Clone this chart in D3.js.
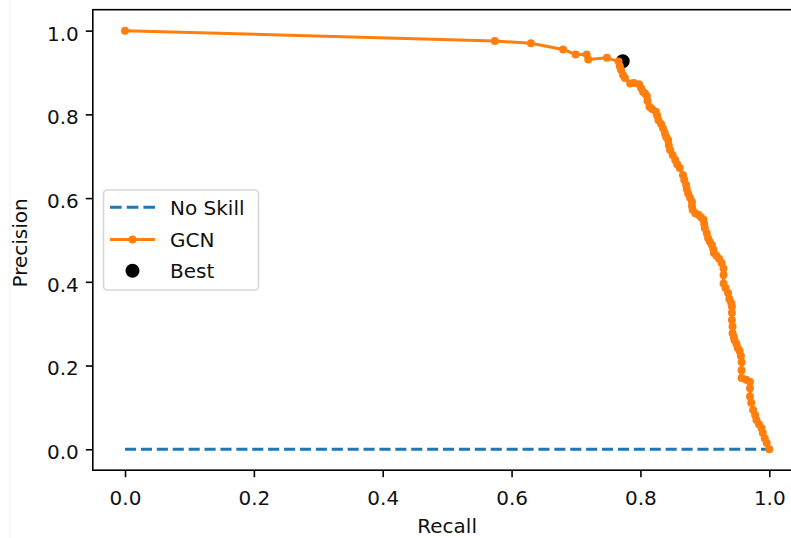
<!DOCTYPE html>
<html>
<head>
<meta charset="utf-8">
<script src="https://cdn.jsdelivr.net/npm/d3@7"></script>
<style>
  html, body { margin: 0; padding: 0; background: #fff; }
  svg { display: block; font-family: "DejaVu Sans", sans-serif; }
</style>
</head>
<body>
<svg id="chart" width="791" height="538"></svg>
<script>
// ---- data ----
const noSkillRecall = [0, 1];
const noSkillPrecision = [0, 0];

const gcnRecall = [
  0.000, 0.574, 0.630, 0.680, 0.6995, 0.7166, 0.719, 0.748, 0.766, 0.768,
  0.770, 0.773, 0.776, 0.784, 0.790, 0.798, 0.801, 0.804, 0.807, 0.810,
  0.811, 0.814, 0.818, 0.824, 0.826, 0.828, 0.832, 0.835, 0.838, 0.840,
  0.843, 0.844, 0.846, 0.850, 0.854, 0.857, 0.861, 0.866, 0.868, 0.871,
  0.872, 0.874, 0.877, 0.880, 0.880, 0.881, 0.885, 0.890, 0.894, 0.898,
  0.899, 0.900, 0.903, 0.905, 0.908, 0.911, 0.913, 0.914, 0.918, 0.922,
  0.926, 0.929, 0.929, 0.929, 0.932, 0.936, 0.938, 0.941, 0.942, 0.942,
  0.942, 0.943, 0.943, 0.945, 0.946, 0.949, 0.951, 0.954, 0.956, 0.957,
  0.957, 0.957, 0.964, 0.970, 0.970, 0.970, 0.972, 0.975, 0.978, 0.980,
  0.984, 0.988, 0.990, 0.993, 0.996, 1.000
];
const gcnPrecision = [
  1.000, 0.975, 0.970, 0.955, 0.943, 0.943, 0.931, 0.935, 0.926, 0.915,
  0.906, 0.894, 0.887, 0.874, 0.875, 0.872, 0.863, 0.854, 0.850, 0.844,
  0.832, 0.818, 0.813, 0.806, 0.797, 0.786, 0.777, 0.767, 0.755, 0.746,
  0.739, 0.727, 0.715, 0.703, 0.691, 0.681, 0.672, 0.655, 0.643, 0.631,
  0.622, 0.611, 0.601, 0.591, 0.581, 0.572, 0.564, 0.560, 0.554, 0.548,
  0.538, 0.528, 0.516, 0.504, 0.495, 0.488, 0.478, 0.469, 0.462, 0.455,
  0.445, 0.432, 0.416, 0.396, 0.385, 0.373, 0.359, 0.349, 0.341, 0.326,
  0.309, 0.293, 0.277, 0.268, 0.261, 0.252, 0.242, 0.235, 0.223, 0.208,
  0.189, 0.170, 0.166, 0.161, 0.146, 0.126, 0.111, 0.094, 0.082, 0.070,
  0.060, 0.050, 0.039, 0.026, 0.015, 0.000
];

const bestRecall = [0.7725];
const bestPrecision = [0.927];

const xTicks = [0.0, 0.2, 0.4, 0.6, 0.8, 1.0];
const yTicks = [0.0, 0.2, 0.4, 0.6, 0.8, 1.0];
const legendLabels = ["No Skill", "GCN", "Best"];
const xLabel = "Recall";
const yLabel = "Precision";

// ---- layout ----
const svg = d3.select("#chart");
const L = 92.8, R = 801.5, T = 9.7, B = 470.2;
const x = d3.scaleLinear().domain([-0.05, 1.05]).range([L, R]);
const y = d3.scaleLinear().domain([-0.05, 1.05]).range([B, T]);

const blue = "#1f77b4", orange = "#ff7f0e";

svg.append("rect").attr("width", 791).attr("height", 538).attr("fill", "#fff");
// faint screenshot edge line
svg.append("line").attr("x1", 10).attr("x2", 10).attr("y1", 0).attr("y2", 538)
  .attr("stroke", "#f2f2f2").attr("stroke-width", 1);

// ---- plot ----
const plot = svg.append("g");
// best (scatter, drawn under lines like matplotlib zorder)
plot.selectAll("circle.best").data(bestRecall.map((r, i) => [r, bestPrecision[i]]))
  .join("circle").attr("class", "best")
  .attr("cx", d => x(d[0])).attr("cy", d => y(d[1])).attr("r", 6)
  .attr("fill", "#000").attr("stroke", "#000").attr("stroke-width", 2);

const line = d3.line().x(d => x(d[0])).y(d => y(d[1]));
plot.append("path")
  .datum(noSkillRecall.map((r, i) => [r, noSkillPrecision[i]]))
  .attr("d", line).attr("fill", "none").attr("stroke", blue)
  .attr("stroke-width", 3).attr("stroke-dasharray", "11.1,4.8");

const gcn = gcnRecall.map((r, i) => [r, gcnPrecision[i]]);
plot.append("path").datum(gcn).attr("d", line).attr("fill", "none")
  .attr("stroke", orange).attr("stroke-width", 3).attr("stroke-linejoin", "round");
plot.selectAll("circle.gcn").data(gcn).join("circle").attr("class", "gcn")
  .attr("cx", d => x(d[0])).attr("cy", d => y(d[1])).attr("r", 3)
  .attr("fill", orange).attr("stroke", orange).attr("stroke-width", 2);

// ---- axes ----
const fmt = d3.format(".1f");
const xAxis = svg.append("g").attr("transform", `translate(0,${B})`)
  .call(d3.axisBottom(x).tickValues(xTicks).tickFormat(fmt).tickSize(7).tickPadding(7));
xAxis.select(".domain").remove();
xAxis.selectAll(".tick line").attr("stroke", "#000").attr("stroke-width", 1.6);
xAxis.selectAll(".tick text").attr("y", 35).attr("dy", null)
  .attr("font-size", 20).attr("font-family", "DejaVu Sans").attr("fill", "#111");

const yAxis = svg.append("g").attr("transform", `translate(${L},0)`)
  .call(d3.axisLeft(y).tickValues(yTicks).tickFormat(fmt).tickSize(7).tickPadding(7));
yAxis.select(".domain").remove();
yAxis.selectAll(".tick line").attr("stroke", "#000").attr("stroke-width", 1.6);
yAxis.selectAll(".tick text").attr("dy", "0.47em")
  .attr("font-size", 20).attr("font-family", "DejaVu Sans").attr("fill", "#111");

// spines
svg.append("rect").attr("x", L).attr("y", T).attr("width", R - L).attr("height", B - T)
  .attr("fill", "none").attr("stroke", "#000").attr("stroke-width", 1.6);

// axis labels
svg.append("text").attr("x", (L + R) / 2).attr("y", 533).attr("text-anchor", "middle")
  .attr("font-size", 20).attr("fill", "#111").text(xLabel);
svg.append("text").attr("transform", `translate(27,${(T + B) / 2 + 3}) rotate(-90)`)
  .attr("text-anchor", "middle").attr("font-size", 20).attr("fill", "#111").text(yLabel);

// ---- legend ----
const lg = svg.append("g");
lg.append("rect").attr("x", 103.5).attr("y", 190).attr("width", 155).attr("height", 100)
  .attr("rx", 4).attr("fill", "#fff").attr("fill-opacity", 0.8)
  .attr("stroke", "#d6d6d6").attr("stroke-width", 1.6);
const rowY = [207.3, 239.6, 270.7];
const hx0 = 110, hx1 = 155, tx = 170;
lg.append("line").attr("x1", hx0).attr("x2", hx1).attr("y1", rowY[0]).attr("y2", rowY[0])
  .attr("stroke", blue).attr("stroke-width", 3).attr("stroke-dasharray", "11.7,5");
lg.append("line").attr("x1", hx0).attr("x2", hx1).attr("y1", rowY[1]).attr("y2", rowY[1])
  .attr("stroke", orange).attr("stroke-width", 3);
lg.append("circle").attr("cx", (hx0 + hx1) / 2).attr("cy", rowY[1]).attr("r", 3)
  .attr("fill", orange).attr("stroke", orange).attr("stroke-width", 2);
lg.append("circle").attr("cx", (hx0 + hx1) / 2).attr("cy", rowY[2]).attr("r", 6)
  .attr("fill", "#000").attr("stroke", "#000").attr("stroke-width", 2);
lg.selectAll("text.lab").data(legendLabels).join("text").attr("class", "lab")
  .attr("x", tx).attr("y", (d, i) => rowY[i] + 7.5)
  .attr("font-size", 20).attr("fill", "#111").text(d => d);
</script>
</body>
</html>
